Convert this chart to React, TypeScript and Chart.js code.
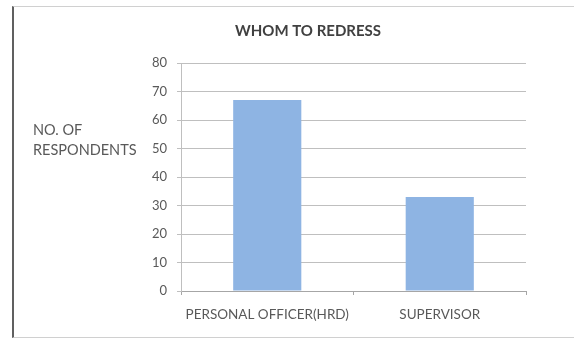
import React, { useEffect, useRef } from "react";
import { Chart, registerables } from "chart.js";

Chart.register(...registerables);

const categories = ["PERSONAL OFFICER(HRD)", "SUPERVISOR"];
const respondents = [67, 33];
const yTicks = [0, 10, 20, 30, 40, 50, 60, 70, 80];
const chartTitle = "WHOM TO REDRESS";
const yAxisTitle = ["NO. OF", "RESPONDENTS"];

const FONT = "Lato, 'Open Sans', sans-serif";

// Draws the chart title and the horizontal, two-line y-axis caption.
const captionPlugin = {
  id: "captions",
  afterDraw(chart: Chart) {
    const ctx = chart.ctx;
    ctx.save();
    ctx.fillStyle = "#404040";
    ctx.font = `bold 15px ${FONT}`;
    ctx.textAlign = "center";
    ctx.textBaseline = "middle";
    ctx.fillText(chartTitle, 308, 31);

    ctx.fillStyle = "#595959";
    ctx.font = `14.5px ${FONT}`;
    ctx.textAlign = "left";
    yAxisTitle.forEach((line, i) => ctx.fillText(line, 33, 130 + i * 20));
    ctx.restore();
  },
};

export default function App() {
  const canvasRef = useRef<HTMLCanvasElement | null>(null);

  useEffect(() => {
    document.body.style.margin = "0";
    const canvas = canvasRef.current;
    if (!canvas) return;
    const chart = new Chart(canvas, {
      type: "bar",
      data: {
        labels: categories,
        datasets: [
          {
            data: respondents,
            backgroundColor: "#8eb4e3",
            borderWidth: 0,
            categoryPercentage: 1,
            barPercentage: 0.395,
          },
        ],
      },
      options: {
        animation: false,
        responsive: false,
        maintainAspectRatio: false,
        layout: { padding: { left: 141, right: 48, top: 63, bottom: 8 } },
        plugins: {
          legend: { display: false },
          title: { display: false },
          tooltip: { enabled: false },
        },
        scales: {
          x: {
            offset: true,
            afterFit: (scale: any) => {
              scale.height = 40;
            },
            grid: {
              offset: true,
              drawOnChartArea: false,
              drawTicks: true,
              tickLength: 4,
              color: "#a6a6a6",
            },
            border: { color: "#a6a6a6", width: 1 },
            ticks: {
              color: "#595959",
              font: { family: FONT, size: 13.5 },
              padding: 12,
              maxRotation: 0,
            },
          },
          y: {
            min: 0,
            max: 80,
            afterFit: (scale: any) => {
              scale.width = 40;
            },
            afterBuildTicks: (scale: any) => {
              scale.ticks = yTicks.map((v) => ({ value: v }));
            },
            grid: {
              color: "#bfbfbf",
              tickLength: 4,
            },
            border: { color: "#bfbfbf", width: 1 },
            ticks: {
              color: "#595959",
              font: { family: FONT, size: 13 },
              padding: 10,
            },
          },
        },
      },
      plugins: [captionPlugin],
    });
    return () => chart.destroy();
  }, []);

  return (
    <div style={{ position: "relative", width: 574, height: 339, background: "#fff" }}>
      <canvas ref={canvasRef} width={574} height={339} style={{ position: "absolute", left: 0, top: 0 }} />
      <div
        style={{
          position: "absolute",
          left: 12,
          top: 6,
          width: 562,
          height: 330,
          borderLeft: "2px solid #606060",
          borderTop: "1px solid #d0d0d0",
          borderBottom: "1px solid #d0d0d0",
          pointerEvents: "none",
        }}
      />
    </div>
  );
}
